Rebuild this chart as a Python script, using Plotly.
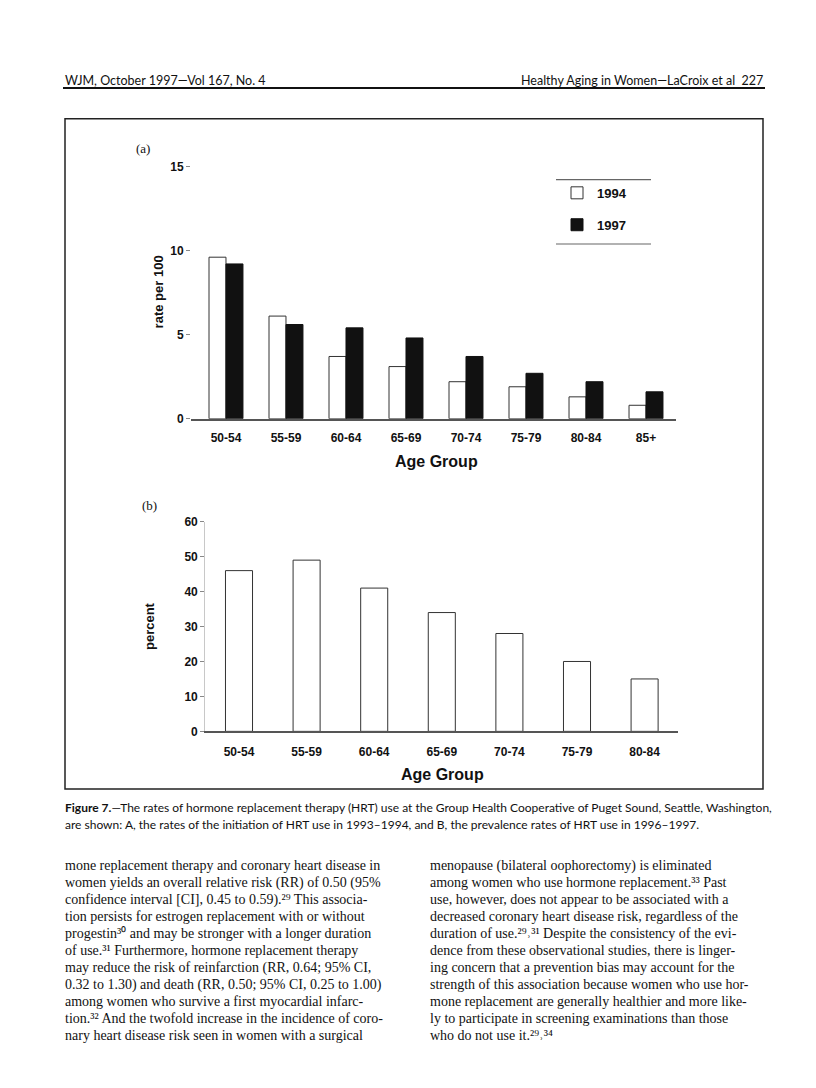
import plotly.graph_objects as go

# ---------------- data ----------------
age_groups_a = ["50-54", "55-59", "60-64", "65-69", "70-74", "75-79", "80-84", "85+"]
rate_1994 = [9.6, 6.1, 3.7, 3.1, 2.2, 1.9, 1.3, 0.8]
rate_1997 = [9.2, 5.6, 5.4, 4.8, 3.7, 2.7, 2.2, 1.6]

age_groups_b = ["50-54", "55-59", "60-64", "65-69", "70-74", "75-79", "80-84"]
percent_b = [46, 49, 41, 34, 28, 20, 15]

ticks_a = [0, 5, 10, 15]
ticks_b = [0, 10, 20, 30, 40, 50, 60]

header_left = "WJM, October 1997—Vol 167, No. 4"
header_right = "Healthy Aging in Women—LaCroix et al  227"
caption_lines = [
    "<b>Figure 7.</b>—The rates of hormone replacement therapy (HRT) use at the Group Health Cooperative of Puget Sound, Seattle, Washington,",
    "are shown: A, the rates of the initiation of HRT use in 1993–1994, and B, the prevalence rates of HRT use in 1996–1997.",
]
body_left = [
    "mone replacement therapy and coronary heart disease in",
    "women yields an overall relative risk (RR) of 0.50 (95%",
    "confidence interval [CI], 0.45 to 0.59).²⁹ This associa-",
    "tion persists for estrogen replacement with or without",
    "progestin³⁰ and may be stronger with a longer duration",
    "of use.³¹ Furthermore, hormone replacement therapy",
    "may reduce the risk of reinfarction (RR, 0.64; 95% CI,",
    "0.32 to 1.30) and death (RR, 0.50; 95% CI, 0.25 to 1.00)",
    "among women who survive a first myocardial infarc-",
    "tion.³² And the twofold increase in the incidence of coro-",
    "nary heart disease risk seen in women with a surgical",
]
body_right = [
    "menopause (bilateral oophorectomy) is eliminated",
    "among women who use hormone replacement.³³ Past",
    "use, however, does not appear to be associated with a",
    "decreased coronary heart disease risk, regardless of the",
    "duration of use.²⁹˒³¹ Despite the consistency of the evi-",
    "dence from these observational studies, there is linger-",
    "ing concern that a prevention bias may account for the",
    "strength of this association because women who use hor-",
    "mone replacement are generally healthier and more like-",
    "ly to participate in screening examinations than those",
    "who do not use it.²⁹˒³⁴",
]

# ---------------- helpers ----------------
W, H = 816, 1088
def px(x):
    return x / W
def py(y):
    return 1 - y / H

SANS = "Liberation Sans"
PAGE = "Lato"
SERIF = "Liberation Serif"

fig = go.Figure()

fig.add_trace(go.Bar(
    x=age_groups_a, y=rate_1994, name="1994", xaxis="x", yaxis="y",
    width=0.283, offset=-0.283, legendgroup="g1",
    marker=dict(color="white", line=dict(color="#333333", width=1)),
))
fig.add_trace(go.Bar(
    x=age_groups_a, y=rate_1997, name="1997", xaxis="x", yaxis="y",
    width=0.283, offset=0.0, legendgroup="g2",
    marker=dict(color="#111111", line=dict(color="#111111", width=1)),
))
fig.add_trace(go.Bar(
    x=age_groups_b, y=percent_b, name="percent", xaxis="x2", yaxis="y2",
    width=0.4, offset=-0.2, showlegend=False,
    marker=dict(color="white", line=dict(color="#333333", width=1)),
))

tickfont = dict(family=SANS, size=12, color="#111111", weight="bold")

fig.update_layout(
    width=W, height=H,
    margin=dict(l=0, r=0, t=0, b=0),
    paper_bgcolor="white", plot_bgcolor="rgba(0,0,0,0)",
    barmode="overlay",
    xaxis=dict(domain=[px(183), px(668)], anchor="y", type="category",
               range=[-0.583, 7.5], showline=True, linecolor="#555555", linewidth=1.5,
               ticks="", showgrid=False, zeroline=False, tickfont=tickfont,
               ticklabelstandoff=7, fixedrange=True),
    yaxis=dict(domain=[py(409), py(153.3)], anchor="x", range=[0, 15],
               tickvals=ticks_a, ticks="outside", ticklen=4, tickcolor="#888888",
               showline=False, showgrid=False, zeroline=False, tickfont=tickfont),
    xaxis2=dict(domain=[px(197.2), px(670.4)], anchor="y2", type="category",
                range=[-0.5, 6.5], showline=True, linecolor="#555555", linewidth=1.5,
                ticks="", showgrid=False, zeroline=False, tickfont=tickfont,
                ticklabelstandoff=8),
    yaxis2=dict(domain=[py(725.7), py(513.3)], anchor="x2", range=[0, 60],
                tickvals=ticks_b, ticks="outside", ticklen=4, tickcolor="#888888",
                showline=True, linecolor="#c8c8c8", linewidth=1,
                showgrid=False, zeroline=False, tickfont=tickfont),
    legend=dict(x=px(549), y=py(165), xanchor="left", yanchor="top",
                font=dict(family=SANS, size=13, color="#111111", weight="bold"),
                tracegroupgap=12, itemwidth=30, bgcolor="rgba(0,0,0,0)"),
)

ann = []
def add_text(text, x, y, size, family, xanchor="left", yanchor="middle", weight="normal", angle=0, color="#111111"):
    ann.append(dict(text=text, x=px(x), y=py(y), xref="paper", yref="paper",
                    xanchor=xanchor, yanchor=yanchor, showarrow=False, textangle=angle,
                    font=dict(family=family, size=size, color=color, weight=weight)))

# header
add_text(header_left, 55, 66, 12.5, PAGE)
add_text(header_right, 757, 66, 12.5, PAGE, xanchor="right")

# panel labels and axis titles
add_text("(a)", 126, 135, 13, SERIF)
add_text("(b)", 132, 497, 13, SERIF)
add_text("rate per 100", 150, 281, 13, SANS, xanchor="center", weight="bold", angle=-90)
add_text("percent", 141, 619, 13, SANS, xanchor="center", weight="bold", angle=-90)
add_text("Age Group", 428, 452, 16, SANS, xanchor="center", weight="bold")
add_text("Age Group", 434, 769, 16, SANS, xanchor="center", weight="bold")

# caption
for i, line in enumerate(caption_lines):
    add_text(line, 55, 803 + i * 17, 12, PAGE)

# body columns
for i, line in enumerate(body_left):
    add_text(line, 55, 862 + i * 17.2, 14, SERIF)
for i, line in enumerate(body_right):
    add_text(line, 420, 862 + i * 17.2, 14, SERIF)

fig.update_layout(annotations=ann)

shapes = [
    # header rule
    dict(type="line", xref="paper", yref="paper", x0=px(55), x1=px(757), y0=py(74), y1=py(74),
         line=dict(color="#111111", width=2)),
    # figure frame
    dict(type="rect", xref="paper", yref="paper", x0=px(57), x1=px(755), y0=py(105), y1=py(784),
         line=dict(color="#222222", width=1.5)),
    # legend rules
    dict(type="line", xref="paper", yref="paper", x0=px(548), x1=px(643), y0=py(166.7), y1=py(166.7),
         line=dict(color="#666666", width=1.2)),
    dict(type="line", xref="paper", yref="paper", x0=px(548), x1=px(643), y0=py(232), y1=py(232),
         line=dict(color="#666666", width=1.2)),
]
fig.update_layout(shapes=shapes)

fig.write_html("out.html")
